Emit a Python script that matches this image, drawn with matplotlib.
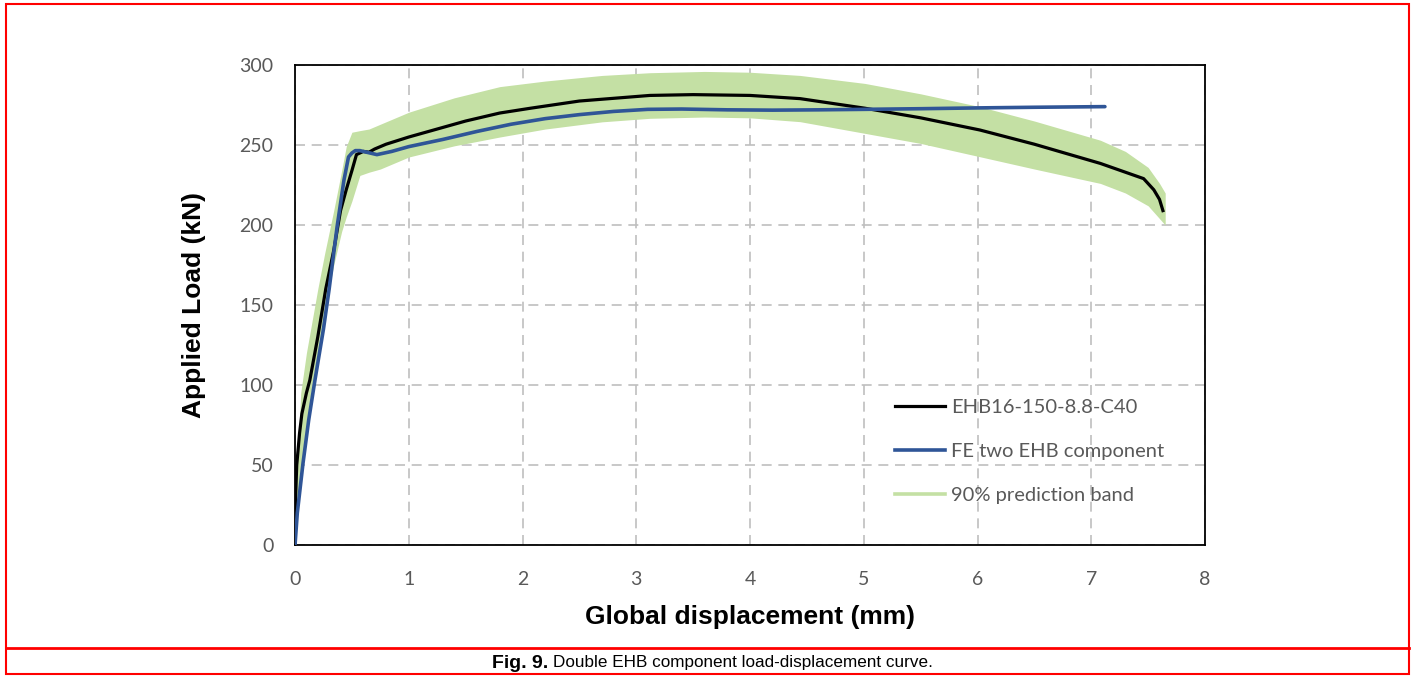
import numpy as np
import matplotlib.pyplot as plt
from matplotlib.lines import Line2D
from matplotlib.patches import Rectangle

# experimental curve EHB16-150-8.8-C40 (mm, kN)
x_exp = [0, 0.005, 0.015, 0.04, 0.06, 0.1, 0.13, 0.2, 0.27, 0.34, 0.4, 0.45, 0.5, 0.54,
         0.6, 0.65, 0.7, 0.8, 1.0, 1.2, 1.5, 1.8, 2.07, 2.5, 3.12, 3.5, 4.0, 4.44, 5.01,
         5.5, 6.02, 6.5, 7.08, 7.3, 7.46, 7.55, 7.6, 7.63]
y_exp = [0, 30, 50, 70, 82, 95, 103, 130, 160, 184, 209, 222, 234, 244,
         246, 245.5, 247.5, 250.5, 255, 259, 265, 270, 273, 277.5, 281, 281.5, 281, 279, 273,
         267, 259.4, 250.5, 238.5, 233, 229, 222, 216, 209]

# FE model, two EHB component
x_fe = [0, 0.02, 0.07, 0.12, 0.175, 0.25, 0.3, 0.37, 0.43, 0.47, 0.5, 0.53, 0.57, 0.63,
        0.72, 0.85, 1.0, 1.3, 1.6, 1.9, 2.2, 2.5, 2.8, 3.1, 3.4, 3.8, 4.2, 4.6, 5.0, 5.5,
        6.0, 6.5, 7.12]
y_fe = [0, 20, 51, 78, 103, 135, 160, 199, 228, 242.5, 245, 246.5, 246.5, 245.5,
        244, 246, 249, 253.5, 258.5, 263, 266.5, 269, 271, 272.3, 272.5, 272, 271.8, 272, 272.3, 272.7,
        273.2, 273.6, 274]

# 90% prediction band
band_x = [0, 0.05, 0.1, 0.15, 0.2, 0.26, 0.34, 0.41, 0.45, 0.5, 0.57, 0.65, 0.75, 1.0,
          1.4, 1.8, 2.2, 2.7, 3.12, 3.6, 4.0, 4.44, 5.01, 5.5, 6.02, 6.5, 7.08, 7.3, 7.5,
          7.6, 7.65]
band_up = [20, 95, 120, 140, 160, 182, 209, 234, 249, 258, 259, 260, 263, 270.5,
           279.5, 286.5, 290, 293.5, 295.2, 296, 295.5, 293.5, 288.5, 282, 274, 265, 253, 246, 236,
           226, 220]
band_lo = [0, 45, 75, 100, 120, 145, 175, 196, 205, 215, 231, 233, 235, 242.5,
           249.5, 255, 260, 264.5, 266.7, 267.5, 267, 264.6, 257.3, 251, 242.7, 235, 226, 220, 212,
           204, 200]

labels = ['EHB16-150-8.8-C40', 'FE two EHB component', '90% prediction band']
green = '#c4e0a4'
blue = '#2f5597'
tick_font = 'Lato'

fig = plt.figure(figsize=(14.15, 6.76), dpi=100)
ax = fig.add_axes([0.2085, 0.1938, 0.6431, 0.71])

ax.fill_between(band_x, band_lo, band_up, color=green, lw=0, zorder=2)
ax.plot(x_exp, y_exp, color='black', lw=2.3, zorder=3)
ax.plot(x_fe, y_fe, color=blue, lw=2.6, zorder=4, solid_capstyle='round')

ax.set_xlim(0, 8)
ax.set_ylim(0, 300)
ax.set_xticks(range(0, 9))
ax.set_yticks(range(0, 301, 50))
ax.grid(True, color='#bfbfbf', ls=(0, (6, 4)), lw=1.2, zorder=1)
ax.set_axisbelow(True)
for s in ax.spines.values():
    s.set_color('black')
    s.set_linewidth(1.3)
ax.tick_params(length=0, labelsize=14, labelcolor='#595959')
ax.tick_params(axis='x', pad=19)
ax.tick_params(axis='y', pad=15.5)
for t in ax.get_xticklabels() + ax.get_yticklabels():
    t.set_family(tick_font)

ax.set_xlabel('Global displacement (mm)', fontsize=19, fontweight='bold',
              family='Liberation Sans', labelpad=12)
ax.set_ylabel('Applied Load (kN)', fontsize=19, fontweight='bold',
              family='Liberation Sans', labelpad=24)

handles = [Line2D([], [], color='black', lw=2.3),
           Line2D([], [], color=blue, lw=2.6),
           Line2D([], [], color=green, lw=2.6)]
leg = ax.legend(handles, labels, loc='upper left', bbox_to_anchor=(0.659, 0.304),
                frameon=False, borderpad=0, borderaxespad=0, handlelength=2.5,
                handletextpad=0.3, labelspacing=1.33,
                prop={'family': tick_font, 'size': 14.5})
for t in leg.get_texts():
    t.set_color('#595959')

# page frame and caption
fig.patches.append(Rectangle((0.004, 0.003), 0.992, 0.991, transform=fig.transFigure,
                             fill=False, ec='red', lw=1.5))
fig.add_artist(Line2D([0.004, 0.996], [1 - 648 / 676] * 2, color='red', lw=2))
cy = 1 - 663 / 676
fig.text(548 / 1415, cy, 'Fig. 9.', ha='right', va='center', fontsize=14,
         fontweight='bold', family='Liberation Sans')
fig.text(553 / 1415, cy, 'Double EHB component load-displacement curve.', ha='left',
         va='center', fontsize=12.3, family='Liberation Sans')

fig.savefig('out.png', dpi=100)
